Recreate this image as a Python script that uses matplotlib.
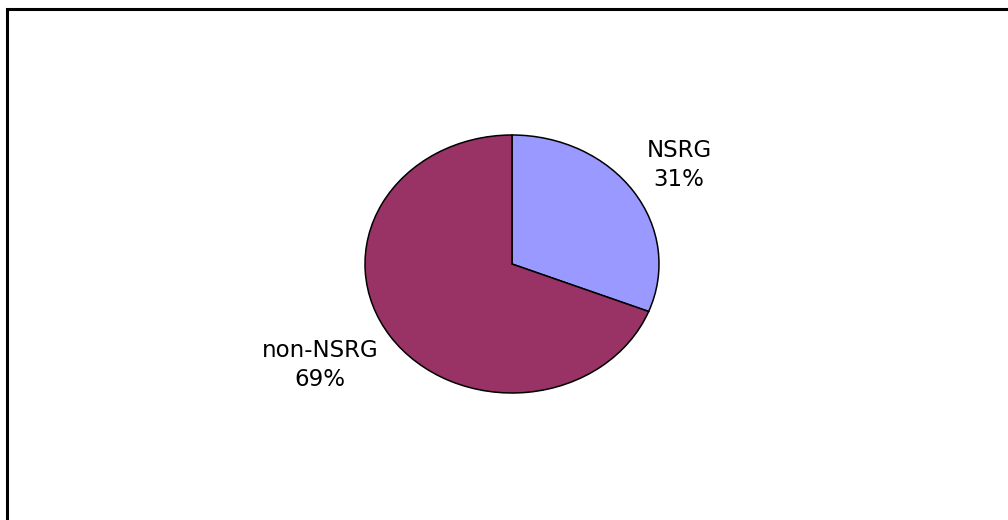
import matplotlib
matplotlib.use("Agg")
from matplotlib import pyplot as plt
from matplotlib.patches import Rectangle

labels = ["NSRG", "non-NSRG"]
values = [31, 69]
colors = ["#9999FF", "#993366"]

W, H = 1008, 520
fig = plt.figure(figsize=(W / 100, H / 100), dpi=100)
fig.patch.set_facecolor("white")

# outer frame (runs off the right and bottom edges)
fig.patches.append(Rectangle((7 / W, -0.1), 2, (1 - 9 / H) + 0.1,
                             transform=fig.transFigure, fill=False,
                             edgecolor="black", linewidth=2.2, clip_on=False))

# pie axes placed in pixel terms, ellipse because the box is not square
cx, cy, rx, ry = 512, 264, 147, 129
ax = fig.add_axes([(cx - rx) / W, (H - cy - ry) / H, 2 * rx / W, 2 * ry / H])
ax.pie(values, colors=colors, startangle=90, counterclock=False,
       wedgeprops={"edgecolor": "black", "linewidth": 1.1})
ax.set_aspect("auto")
ax.set_xlim(-1, 1)
ax.set_ylim(-1, 1)
ax.axis("off")

label_px = [(679, 165), (320, 365)]
for lab, v, (px, py) in zip(labels, values, label_px):
    ax.text((px - cx) / rx, (cy - py) / ry, f"{lab}\n{v}%",
            ha="center", va="center", multialignment="center",
            fontsize=16.5, linespacing=1.35, family="DejaVu Sans")

plt.savefig("out.png", dpi=100)
